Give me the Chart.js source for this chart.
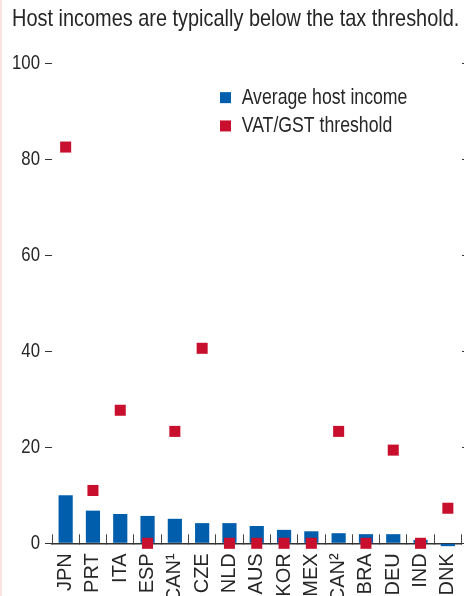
<!DOCTYPE html>
<html><head><meta charset="utf-8">
<script src="https://cdn.jsdelivr.net/npm/chart.js@4"></script>
<style>
html,body{margin:0;padding:0;background:#fff;overflow:hidden;}
#wrap{position:relative;width:464px;height:596px;overflow:hidden;}
#strip{position:absolute;left:0;top:0;width:2px;height:596px;background:#fbe3e1;z-index:2}
canvas{display:block}
</style></head><body>
<div id="wrap"><div id="strip"></div><canvas id="c" width="470" height="596"></canvas></div>
<script>
const categories = ['JPN','PRT','ITA','ESP','CAN¹','CZE','NLD','AUS','KOR','MEX','CAN²','BRA','DEU','IND','DNK'];
const hostIncome = [10.0, 6.8, 6.1, 5.7, 5.1, 4.2, 4.2, 3.6, 2.8, 2.5, 2.1, 1.9, 1.9, 0.7, -0.6];
const vatThreshold = [82.5, 11.0, 27.7, 0, 23.3, 40.6, 0, 0, 0, 0, 23.3, 0, 19.4, 0, 7.3];
const yMin = 0, yMax = 100, yStep = 20;
const seriesNames = ['VAT/GST threshold', 'Average host income'];

const BLUE = '#005EAC', RED = '#C8102E', INK = '#262626';
const FONT = '"Liberation Sans", Arial, Helvetica, sans-serif';
const CONDENSE = 0.83; // horizontal text in the reference uses a condensed face

const canvas = document.getElementById('c');
const ctx = canvas.getContext('2d');
const origFill = CanvasRenderingContext2D.prototype.fillText;
ctx.fillText = function (t, x, y, mw) {
  const m = this.getTransform();
  if (Math.abs(m.b) < 1e-6 && Math.abs(m.c) < 1e-6) {
    this.save();
    this.translate(x, y);
    this.scale(CONDENSE, 1);
    origFill.call(this, t, 0, 0);
    this.restore();
  } else {
    origFill.call(this, t, x, y);
  }
};

const legendShift = {
  id: 'legendShift',
  beforeDraw(chart) {
    const lg = chart.legend;
    lg.left = 213; lg.right = 470;
    lg.top = 80; lg.bottom = 160;
    lg.width = lg.right - lg.left; lg.height = lg.bottom - lg.top;
  }
};

new Chart(ctx, {
  type: 'bar',
  data: {
    labels: categories,
    datasets: [
      {
        type: 'line',
        label: seriesNames[0],
        data: vatThreshold,
        showLine: false,
        backgroundColor: RED,
        borderColor: RED,
        borderWidth: 0,
        pointStyle: 'rect',
        pointRadius: 7.8,
        pointHoverRadius: 7.8,
        pointBorderWidth: 0,
        pointBackgroundColor: RED,
        clip: false
      },
      {
        type: 'bar',
        label: seriesNames[1],
        data: hostIncome,
        backgroundColor: BLUE,
        borderWidth: 0,
        barPercentage: 0.52,
        categoryPercentage: 1,
        clip: false
      }
    ]
  },
  options: {
    responsive: false,
    animation: false,
    events: [],
    layout: { padding: { left: 12, top: 0, right: 0, bottom: 0 } },
    plugins: {
      title: {
        display: true,
        text: 'Host incomes are typically below the tax threshold.',
        align: 'start',
        color: INK,
        font: { family: FONT, size: 24, weight: 'normal', lineHeight: 1.2 },
        padding: { top: 5, bottom: 29.2 }
      },
      legend: {
        display: true,
        position: 'chartArea',
        align: 'start',
        labels: {
          boxWidth: 11,
          boxHeight: 11,
          padding: 7,
          color: INK,
          font: { family: FONT, size: 21.3 },
          sort: (a, b) => b.datasetIndex - a.datasetIndex
        }
      },
      tooltip: { enabled: false }
    },
    scales: {
      x: {
        offset: true,
        grid: { display: true, offset: true, drawOnChartArea: false, drawTicks: true, tickLength: -9, color: '#444', lineWidth: 1 },
        border: { display: true, color: '#333', width: 1.5 },
        ticks: { color: INK, font: { family: FONT, size: 20 }, maxRotation: 90, minRotation: 90, padding: 19, autoSkip: false },
        afterFit: (s) => { s.height = 52.7; s.paddingLeft = 0; s.paddingRight = 0; }
      },
      y: {
        min: yMin, max: yMax,
        grid: { drawOnChartArea: false, drawTicks: true, tickLength: 7, color: '#333', lineWidth: 1 },
        border: { display: false },
        ticks: { stepSize: yStep, color: INK, font: { family: FONT, size: 20.2 }, padding: 5 },
        afterFit: (s) => { s.width = 40; }
      },
      y2: {
        position: 'right',
        min: yMin, max: yMax,
        grid: { drawOnChartArea: false, drawTicks: true, tickLength: 7, color: '#333', lineWidth: 1 },
        border: { display: false },
        ticks: { stepSize: yStep, display: false },
        afterFit: (s) => { s.width = 8.5; }
      }
    }
  },
  plugins: [legendShift]
});
</script>
</body></html>
